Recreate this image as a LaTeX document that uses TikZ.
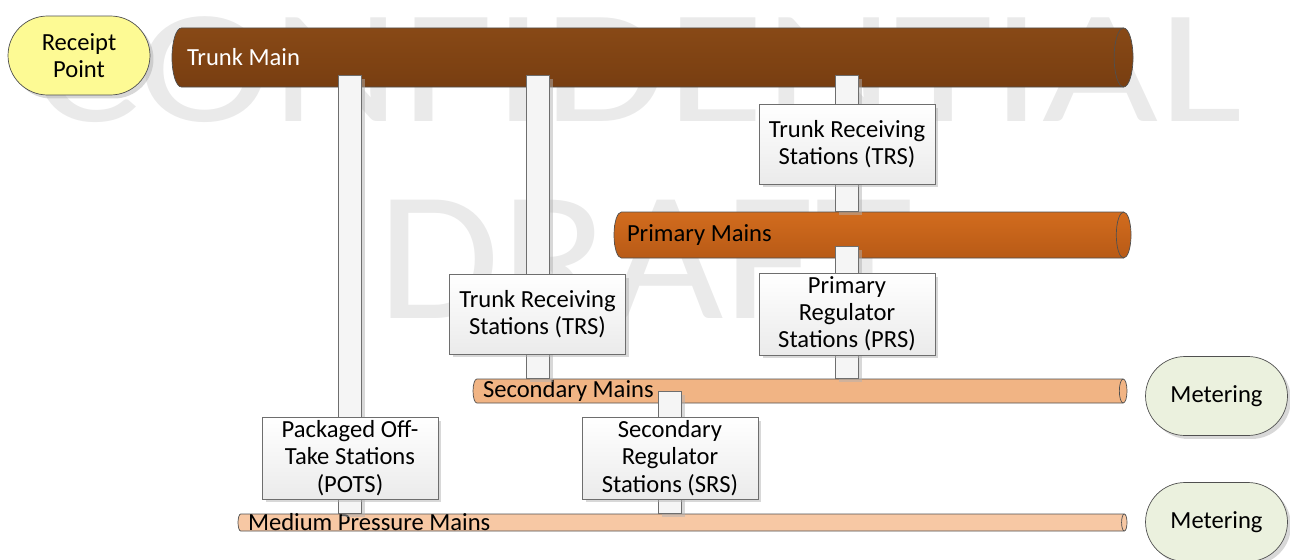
\documentclass[tikz,border=0pt]{standalone}
\usepackage{fontspec}
\setmainfont{Carlito}
\usetikzlibrary{positioning,fit,calc,shadows}

\definecolor{trunkTop}{RGB}{136,73,22}
\definecolor{trunkBot}{RGB}{120,62,17}
\definecolor{primTop}{RGB}{210,108,30}
\definecolor{primBot}{RGB}{184,90,22}
\definecolor{secFill}{RGB}{241,180,132}
\definecolor{medFill}{RGB}{247,200,164}
\definecolor{pipeLine}{RGB}{80,80,80}
\definecolor{boxLine}{RGB}{110,110,110}
\definecolor{receiptFill}{RGB}{253,250,148}
\definecolor{meterFill}{RGB}{235,241,222}
\definecolor{markGray}{RGB}{234,234,234}

\tikzset{
  lbl/.style={font=\fontsize{14}{15.5}\selectfont},
  shadowed/.style={drop shadow={shadow xshift=0.07cm, shadow yshift=-0.07cm, fill=black!30, opacity=0.5}},
  station/.style={draw=boxLine, top color=white, bottom color=black!8, shadowed,
    minimum width=3.52cm, minimum height=1.6cm, align=center, inner sep=2pt, lbl},
  terminal/.style={draw=pipeLine, rounded corners=0.79cm, shadowed,
    minimum width=2.84cm, minimum height=1.58cm, align=center, lbl},
  feed/.style={draw=boxLine, fill=black!4, shadowed},
  pipetext/.style={anchor=west, inner sep=0pt, lbl},
  watermark/.style={text=markGray, anchor=base, inner sep=0pt}
}

% pipe: name, left, right, top, bottom, top colour, bottom colour
\newcommand{\pipe}[7]{%
  \pgfmathsetmacro\pipeRx{0.16*(#4-#5)}
  \pgfmathsetmacro\pipeRy{(#4-#5)/2}
  \shade[top color=#6, bottom color=#7, draw=pipeLine]
    ({#2+\pipeRx},#4) -- ({#3-\pipeRx},#4)
    arc[start angle=90, end angle=-90, x radius=\pipeRx, y radius=\pipeRy]
    -- ({#2+\pipeRx},#5)
    arc[start angle=270, end angle=90, x radius=\pipeRx, y radius=\pipeRy] -- cycle;
  \draw[pipeLine] ({#3-\pipeRx},#4)
    arc[start angle=90, end angle=270, x radius=\pipeRx, y radius=\pipeRy];
  \node[inner sep=0pt, fit={(#2,#4) (#3,#5)}] (#1) {};
}

% feeder: from pipe, to pipe, station
\newcommand{\feeder}[3]{%
  \filldraw[feed] ($(#1.south -| #3)+(-11.5,12)$) rectangle ($(#2.north -| #3)+(11.5,0)$);
}

\begin{document}
\begin{tikzpicture}[x=0.02cm, y=0.02cm]

    \useasboundingbox (0,0) rectangle (1290,559);

    % Watermark
    \node[watermark, font=\fontsize{92}{92}\selectfont, xscale=1.24] (wmTop) at (638,438) {CONFIDENTIAL};
    \node[watermark, font=\fontsize{105}{105}\selectfont, xscale=1.08] (wmBot) at (645,241) {DRAFT};

    % Station positions
    \coordinate (trsAAt) at (847,415);
    \coordinate (trsBAt) at (537.5,245);
    \coordinate (prsAt)  at (847,245);
    \coordinate (potsAt) at (350,101);
    \coordinate (srsAt)  at (670,101);

    %%%% Pipes
    \pipe{trunk}{172}{1133}{531}{472}{trunkTop}{trunkBot}
    \pipe{primary}{614}{1131}{347}{301}{primTop}{primBot}
    \pipe{secondary}{473}{1127}{180}{156}{secFill}{secFill}
    \pipe{medium}{238}{1127}{45}{28}{medFill}{medFill}

    \node[pipetext, text=white] (trunkLbl) at ([xshift=0.3cm]trunk.west) {Trunk Main};
    \node[pipetext] (primaryLbl) at ([xshift=0.26cm]primary.west) {Primary Mains};
    \node[pipetext] (secondaryLbl) at ([xshift=0.2cm]secondary.west) {Secondary Mains};
    \node[pipetext] (mediumLbl) at ([xshift=0.2cm]medium.west) {Medium Pressure Mains};

    %%%% Feeders
    \feeder{trunk}{medium}{potsAt}
    \feeder{trunk}{secondary}{trsBAt}
    \feeder{trunk}{primary}{trsAAt}
    \feeder{primary}{secondary}{prsAt}
    \feeder{secondary}{medium}{srsAt}

    %%%% Stations
    \node[station] (trsA) at (trsAAt) {Trunk Receiving\\Stations (TRS)};
    \node[station] (trsB) at (trsBAt) {Trunk Receiving\\Stations (TRS)};
    \node[station] (prs)  at (prsAt)  {Primary\\Regulator\\Stations (PRS)};
    \node[station] (pots) at (potsAt) {Packaged Off-\\Take Stations\\(POTS)};
    \node[station] (srs)  at (srsAt)  {Secondary\\Regulator\\Stations (SRS)};

    %%%% Ends
    \node[terminal, fill=receiptFill] (receipt) at (79,503.5) {Receipt\\Point};
    \node[terminal, fill=meterFill] (meterA) at (1216.5,163) {Metering};
    \node[terminal, fill=meterFill] (meterB) at (1216.5,37) {Metering};

\end{tikzpicture}
\end{document}
